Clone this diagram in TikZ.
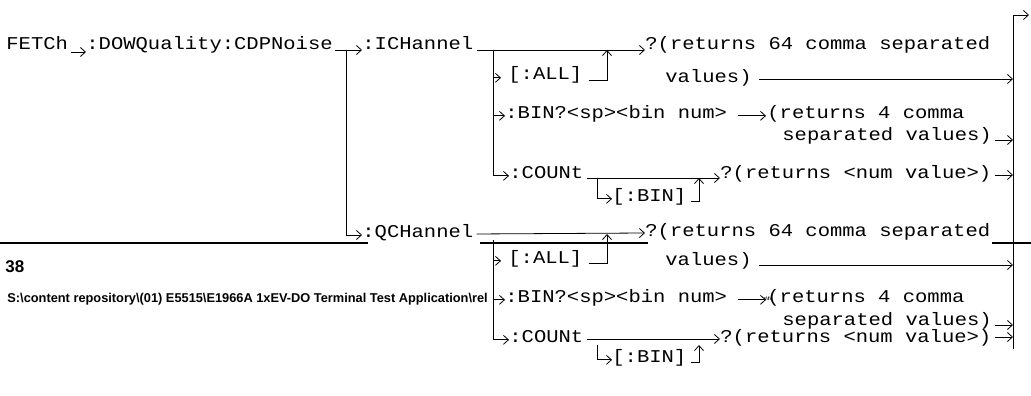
\documentclass[tikz,border=0pt]{standalone}
\usepackage{fontspec}
\newfontfamily\cmdfont[FakeStretch=1.14]{Liberation Mono}
\newfontfamily\pagefont{Liberation Sans}
\usetikzlibrary{arrows.meta}

\tikzset{
  syn/.style={font={\cmdfont\fontsize{18}{22}\selectfont}, inner sep=0pt, anchor=base west},
  link/.style={draw, ->},
  pagerule/.style={line width=2pt},
  pagetext/.style={font={\pagefont\bfseries\fontsize{#1}{#1}\selectfont}, inner sep=0pt, anchor=base west},
}

\begin{document}
\begin{tikzpicture}[x=1pt,y=-1pt,>={Straight Barb[length=5pt,width=9pt]},line width=0.8pt]
    \useasboundingbox (0,0) rectangle (1031,396);

    % page footer left in the scan
    \draw[pagerule] (0,243) -- (368,243);
    \draw[pagerule] (480,243) -- (648,243);
    \draw[pagerule] (992,243) -- (1031,243);
    \node (pgnum) [pagetext=17] at (5,272) {38};
    \node (pgpath) [pagetext=12.8] at (7,302) {S:\textbackslash content repository\textbackslash(01) E5515\textbackslash E1966A 1xEV-DO Terminal Test Application\textbackslash rel};

    % root
    \node (fetch) [syn] at (6,50) {FETCh};
    \node (dow) [syn] at (86,50) {:DOWQuality:CDPNoise};

    % I channel
    \node (ich) [syn] at (362,50) {:ICHannel};
    \node (iret) [syn] at (645,50) {?(returns 64 comma separated};
    \node (iall) [syn] at (508,80) {[:ALL]};
    \node (ivals) [syn] at (665,82) {values)};
    \node (ibin) [syn] at (505,118) {:BIN?<sp><bin num>};
    \node (ibinret) [syn] at (767,118) {(returns 4 comma};
    \node (ibinsep) [syn] at (782,140) {separated values)};
    \node (icount) [syn] at (509,178) {:COUNt};
    \node (icbin) [syn] at (612,201) {[:BIN]};
    \node (icret) [syn] at (720,178) {?(returns <num value>)};

    % Q channel
    \node (qch) [syn] at (362,237) {:QCHannel};
    \node (qret) [syn] at (645,236) {?(returns 64 comma separated};
    \node (qall) [syn] at (508,263) {[:ALL]};
    \node (qvals) [syn] at (665,265) {values)};
    \node (qbin) [syn] at (505,302) {:BIN?<sp><bin num>};
    \node (qbinret) [syn] at (767,302) {(returns 4 comma};
    \node (qbinsep) [syn] at (782,325) {separated values)};
    \node (qcount) [syn] at (509,342) {:COUNt};
    \node (qcbin) [syn] at (612,362) {[:BIN]};
    \node (qcret) [syn] at (720,342) {?(returns <num value>)};
    \node (garble) [font={\pagefont\bfseries\fontsize{5}{5}\selectfont}, inner sep=0pt] at (768,299) {s\textbackslash fx};

    % split points and exit
    \coordinate (chsplit) at (346,50);
    \coordinate (ibr) at (493,50);
    \coordinate (iup) at (607,50);
    \coordinate (icsplit) at (597,178);
    \coordinate (icup) at (699,178);
    \coordinate (qbr) at (493,237);
    \coordinate (qup) at (607,237);
    \coordinate (qcsplit) at (597,342);
    \coordinate (qcup) at (699,342);
    \coordinate (rbot) at (1013,349);
    \coordinate (exitpt) at (1029,15);

    \draw[link, shorten <=3pt] ([yshift=-2pt]fetch.base east) -- ([yshift=-2pt]dow.base west);
    \draw[link, shorten <=2pt] (dow.base east) -- (ich.base west);
    \draw[link] (chsplit) |- ([yshift=2pt]qch.base west);
    \draw[link] (rbot) |- (exitpt);

    % I channel connectors
    \draw[link, shorten <=3pt] (ich.base east) -- (iret.base west);
    \draw[link] (ibr) |- (icount.mid west);
    \draw[link, shorten >=7pt] (ibr |- iall.mid west) -- (iall.mid west);
    \draw[link] (ibr |- ibin.mid west) -- (ibin.mid west);
    \draw[link] ([xshift=6pt]iall.base east) -| (iup);
    \draw[link] ([xshift=7pt,yshift=3pt]ivals.base east) -- ([yshift=3pt]ivals.base east -| rbot);
    \draw[link] ([xshift=11pt]ibin.mid east) -- ([xshift=-1pt]ibinret.mid west);
    \draw[link] ([xshift=3pt]ibinsep.base east) -- (ibinsep.base east -| rbot);
    \draw[link, shorten <=3pt] (icount.base east) -- (icret.base west);
    \draw[link] (icsplit) |- (icbin.mid west);
    \draw[link] ([xshift=4pt]icbin.base east) -| (icup);
    \draw[link] ([xshift=3pt,yshift=3pt]icret.base east) -- ([yshift=3pt]icret.base east -| rbot);

    % Q channel connectors
    \draw[link, shorten <=3pt] ([yshift=3pt]qch.base east) -- ([yshift=3pt]qret.base west);
    \draw[link] ([yshift=-3pt]qbr) |- (qcount.mid west);
    \draw[link, shorten >=7pt] (qbr |- qall.mid west) -- (qall.mid west);
    \draw[link] (qbr |- qbin.mid west) -- (qbin.mid west);
    \draw[link] ([xshift=6pt]qall.base east) -| ([yshift=3pt]qup);
    \draw[link] ([xshift=7pt]qvals.base east) -- (qvals.base east -| rbot);
    \draw[link] ([xshift=11pt]qbin.mid east) -- ([xshift=-1pt]qbinret.mid west);
    \draw[link] ([xshift=3pt]qbinsep.base east) -- (qbinsep.base east -| rbot);
    \draw[link, shorten <=3pt] ([yshift=3pt]qcount.base east) -- ([yshift=3pt]qcret.base west);
    \draw[link] ([yshift=-3pt]qcsplit) |- (qcbin.mid west);
    \draw[link] ([xshift=4pt]qcbin.base east) -| ([yshift=-3pt]qcup);
    \draw[link] ([xshift=3pt,yshift=5pt]qcret.base east) -- ([yshift=5pt]qcret.base east -| rbot);
\end{tikzpicture}
\end{document}
